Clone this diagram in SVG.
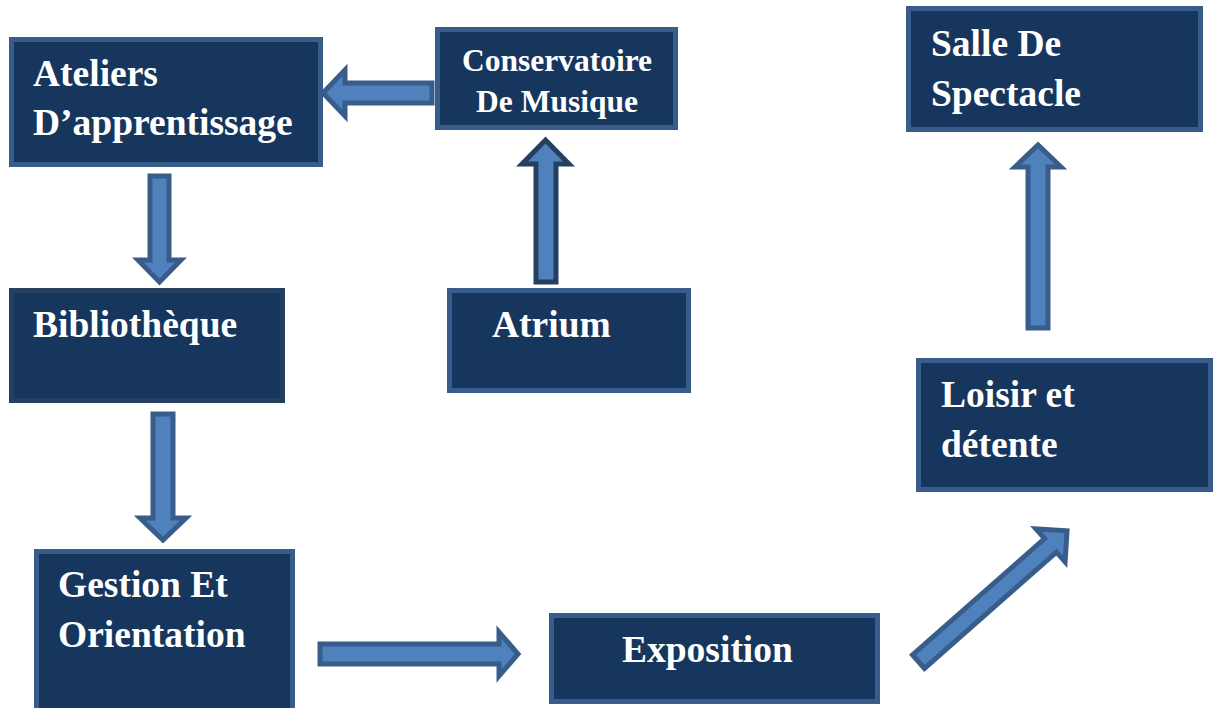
<svg xmlns="http://www.w3.org/2000/svg" width="1217" height="708" viewBox="0 0 1217 708">
<style>
.box{fill:#17365d;stroke:#385d8a;stroke-width:5}
.box2{fill:#17365d;stroke:#243f60;stroke-width:5}
.lbl{font-family:"Liberation Serif","Times New Roman",serif;font-weight:bold;font-size:37.5px;fill:#ffffff}
.sm{font-size:31.5px}
.arr{fill:#4f81bd;stroke:#385d8a;stroke-width:5;stroke-linejoin:miter}
.arr2{fill:#4f81bd;stroke:#243f60;stroke-width:5;stroke-linejoin:miter}
</style>
<rect width="1217" height="708" fill="#ffffff"/>
<g id="connectors">
<path class="arr" d="M432,83 L345,83 L345,70 L323,93 L345,116 L345,103 L432,103 Z"/>
<path class="arr" d="M150,176 L169,176 L169,260 L181,260 L159.5,282 L138,260 L150,260 Z"/>
<path class="arr2" d="M536,282 L556,282 L556,164 L569,164 L545.5,140 L522,164 L536,164 Z"/>
<path class="arr" d="M153,414 L173,414 L173,518 L186,518 L163,540 L140,518 L153,518 Z"/>
<path class="arr" d="M320,644 L499,644 L499,632 L518,654 L499,676 L499,664 L320,664 Z"/>
<path class="arr" d="M1028,328 L1048,328 L1048,167 L1061,167 L1038,145 L1015,167 L1028,167 Z"/>
<path class="arr" transform="translate(917,663) rotate(-41.4)" d="M2,-9 L178,-9 L178,-22 L200,0 L178,22 L178,9 L2,9 Z"/>
</g>
<g id="ateliers">
<rect class="box" x="11.5" y="39.5" width="309" height="125"/>
<text class="lbl" x="33" y="86">Ateliers</text>
<text class="lbl" x="33" y="135">D’apprentissage</text>
</g>
<g id="conservatoire">
<rect class="box" x="437.5" y="29.5" width="238" height="98"/>
<text class="lbl sm" x="557" y="71" text-anchor="middle">Conservatoire</text>
<text class="lbl sm" x="557" y="112" text-anchor="middle">De Musique</text>
</g>
<g id="salle">
<rect class="box" x="908.5" y="8.5" width="292" height="121"/>
<text class="lbl" x="931" y="56">Salle De</text>
<text class="lbl" x="931" y="106">Spectacle</text>
</g>
<g id="bibliotheque">
<rect class="box2" x="11.5" y="290.5" width="271" height="110"/>
<text class="lbl" x="33" y="337">Bibliothèque</text>
</g>
<g id="atrium">
<rect class="box" x="449.5" y="290.5" width="239" height="100"/>
<text class="lbl" x="492" y="337">Atrium</text>
</g>
<g id="loisir">
<rect class="box" x="918.5" y="360.5" width="292" height="129"/>
<text class="lbl" x="941" y="407">Loisir et</text>
<text class="lbl" x="941" y="457">détente</text>
</g>
<g id="gestion">
<rect class="box" x="36.5" y="551.5" width="256" height="170"/>
<text class="lbl" x="58" y="597">Gestion Et</text>
<text class="lbl" x="58" y="647">Orientation</text>
</g>
<g id="exposition">
<rect class="box" x="551.5" y="615.5" width="326" height="86"/>
<text class="lbl" x="622" y="662">Exposition</text>
</g>
</svg>
